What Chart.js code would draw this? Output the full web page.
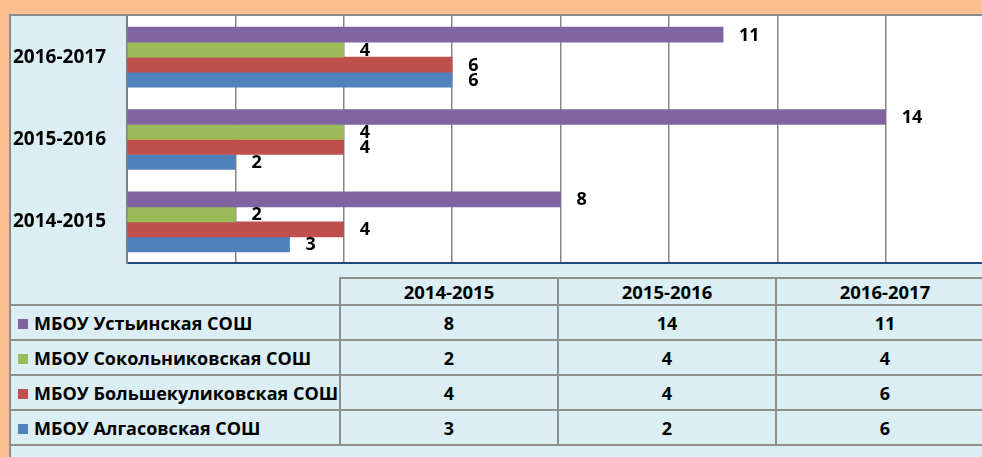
<!DOCTYPE html>
<html>
<head>
<meta charset="utf-8">
<script src="https://cdn.jsdelivr.net/npm/chart.js@4/dist/chart.umd.min.js"></script>
<style>
  html, body { margin: 0; padding: 0; }
  body { width: 982px; height: 457px; overflow: hidden; background: #FAC090; position: relative; font-family: 'Open Sans', sans-serif; }
  #frame { position: absolute; left: 9px; top: 14px; width: 1000px; height: 460px; background: #DBEEF4; border-left: 2px solid #8c8c8c; border-top: 2px solid #8c8c8c; }
  #chartBox { position: absolute; left: 0; top: 0; width: 1000px; height: 249px; }
  #dataTable { position: absolute; left: 0; top: 261px; border-collapse: collapse; table-layout: fixed; font-weight: bold; font-size: 18px; color: #000; }
  #dataTable td { border: 2px solid #8f8f8f; text-align: center; padding: 0; white-space: nowrap; height: 33px; }
  #dataTable tr.head td { height: 24px; font-size: 18.5px; }
  #dataTable tr.head td.blank { border-top: none; border-left: none; }
  #dataTable td.name { text-align: left; padding-left: 7px; border-left: none; }
  .key { display: inline-block; width: 10px; height: 10px; margin-right: 6px; vertical-align: 1px; }
</style>
</head>
<body>
<div id="frame">
  <div id="chartBox"><canvas id="barChart" width="1000" height="249"></canvas></div>
  <table id="dataTable"></table>
</div>
<script>
// school years, bottom-to-top in the chart, left-to-right in the table
const years = ['2014-2015', '2015-2016', '2016-2017'];
const schools = ['МБОУ Устьинская СОШ', 'МБОУ Сокольниковская СОШ', 'МБОУ Большекуликовская СОШ', 'МБОУ Алгасовская СОШ'];
const colors = ['#8064A2', '#9BBB59', '#C0504D', '#4F81BD'];
const ustya = [8, 14, 11];
const sokolniki = [2, 4, 4];
const bkulikovo = [4, 4, 6];
const algasovo = [3, 2, 6];
const xTicks = [0, 2, 4, 6, 8, 10, 12, 14, 16];

const series = [ustya, sokolniki, bkulikovo, algasovo];
const FONT = "'Open Sans', sans-serif";

// chart draws the latest year on top
const chartLabels = years.slice().reverse();

const plotBg = {
  id: 'plotBg',
  beforeDraw(chart) {
    const { ctx, chartArea: a } = chart;
    ctx.save();
    ctx.fillStyle = '#ffffff';
    ctx.fillRect(a.left, a.top, a.right - a.left, a.bottom - a.top);
    ctx.restore();
  }
};

const valueLabels = {
  id: 'valueLabels',
  afterDatasetsDraw(chart) {
    const ctx = chart.ctx;
    ctx.save();
    ctx.font = 'bold 18px ' + FONT;
    ctx.fillStyle = '#000';
    ctx.textAlign = 'left';
    ctx.textBaseline = 'middle';
    chart.data.datasets.forEach((ds, i) => {
      chart.getDatasetMeta(i).data.forEach((bar, j) => {
        ctx.fillText(String(ds.data[j]), bar.x + 16, bar.y + 1);
      });
    });
    ctx.restore();
  }
};

new Chart(document.getElementById('barChart').getContext('2d'), {
  type: 'bar',
  data: {
    labels: chartLabels,
    datasets: schools.map((s, i) => ({
      label: s,
      data: series[i].slice().reverse(),
      backgroundColor: colors[i],
      barThickness: 15
    }))
  },
  options: {
    indexAxis: 'y',
    responsive: false,
    animation: false,
    layout: { padding: { top: 0, right: 17, bottom: 0, left: 0 } },
    plugins: { legend: { display: false }, tooltip: { enabled: false } },
    scales: {
      x: {
        min: xTicks[0], max: xTicks[xTicks.length - 1],
        afterBuildTicks: s => { s.ticks = xTicks.map(v => ({ value: v })); },
        afterFit: s => { s.height = 2; s.paddingLeft = 0; s.paddingRight = 0; },
        ticks: { display: false },
        grid: { color: '#868686', lineWidth: 1.5, drawTicks: false },
        border: { color: '#1F497D', width: 2 }
      },
      y: {
        afterFit: s => { s.width = 116; s.paddingTop = 0; s.paddingBottom = 0; },
        ticks: { color: '#000', padding: 21, font: { family: FONT, size: 19, weight: 'bold' } },
        grid: { display: false, drawTicks: false },
        border: { color: '#808080', width: 2 }
      }
    }
  },
  plugins: [plotBg, valueLabels]
});

// data table below the chart
const table = document.getElementById('dataTable');
let html = '<colgroup><col style="width:329px">' + years.map(() => '<col style="width:218px">').join('') + '</colgroup>';
html += '<tr class="head"><td class="blank"></td>' + years.map(y => '<td>' + y + '</td>').join('') + '</tr>';
schools.forEach((s, i) => {
  html += '<tr><td class="name"><span class="key" style="background:' + colors[i] + '"></span>' + s + '</td>' +
    series[i].map(v => '<td>' + v + '</td>').join('') + '</tr>';
});
table.innerHTML = html;
</script>
</body>
</html>
